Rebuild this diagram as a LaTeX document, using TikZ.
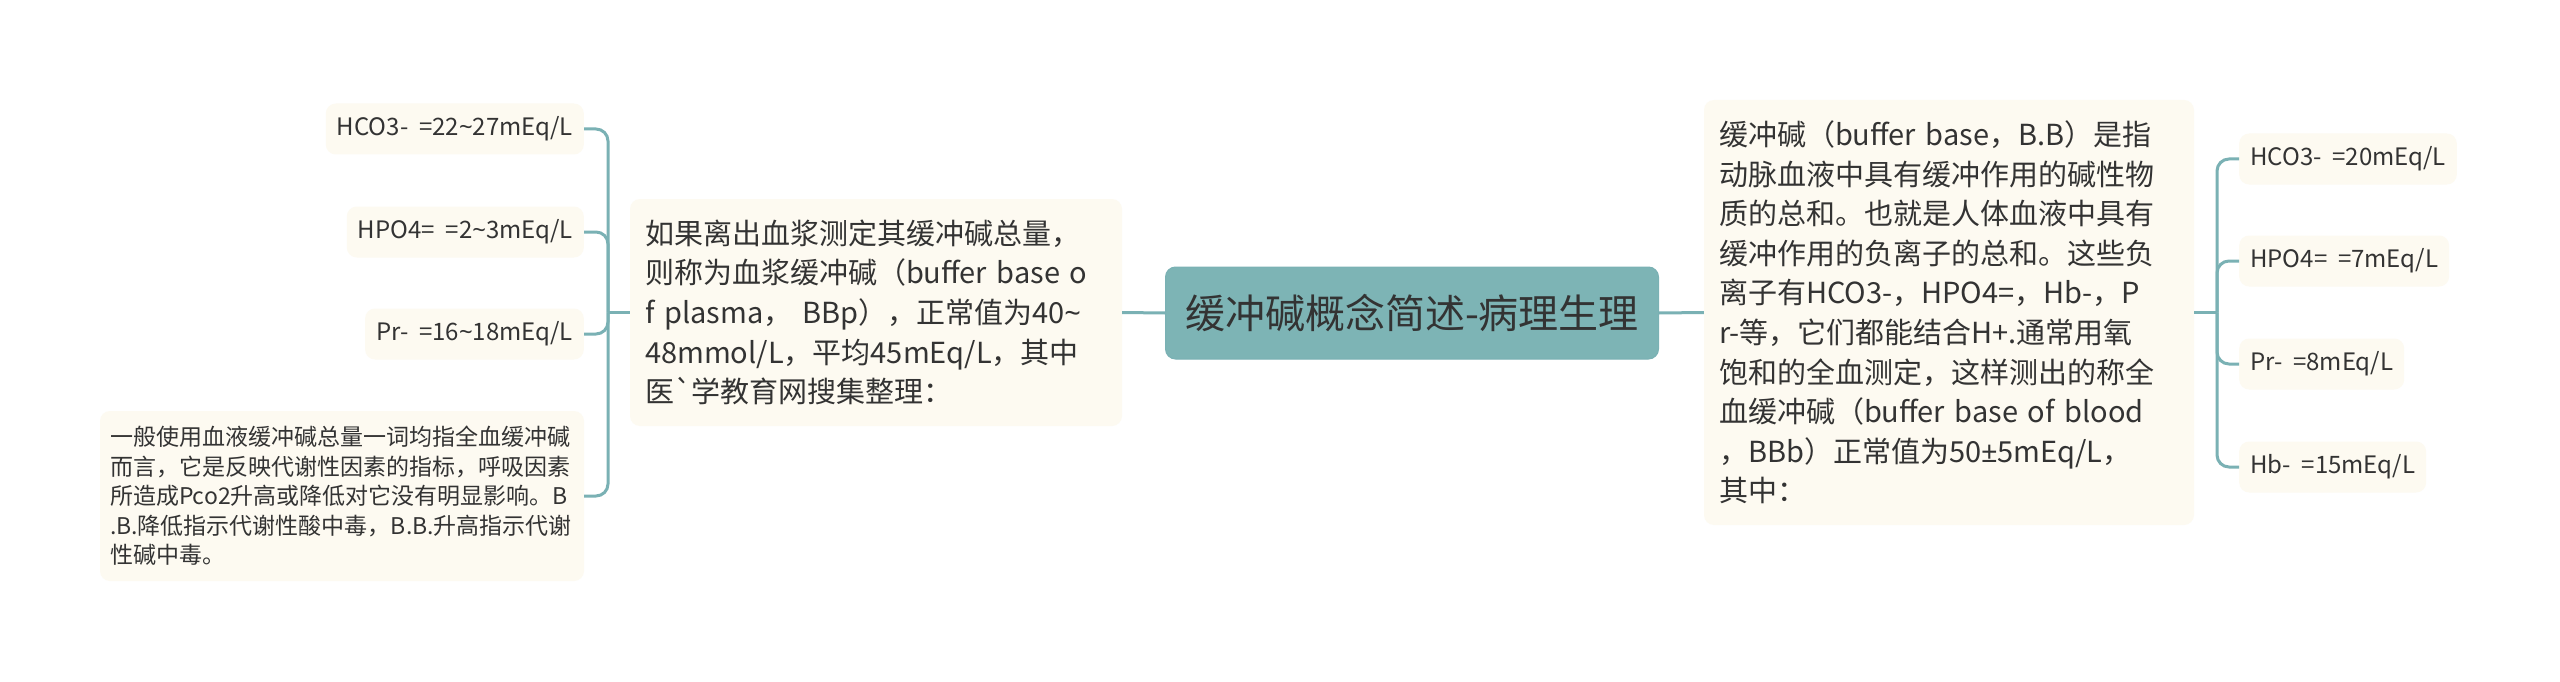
\documentclass[tikz,border=0pt]{standalone}
\usepackage{fontspec}
\setmainfont{Noto Sans CJK SC}
\newfontfamily\latinfont{Noto Sans}
\def\tld{{\latinfont\textasciitilde}}
\def\pmsign{{\latinfont ±}}
\definecolor{linkteal}{HTML}{7AB1B4}
\definecolor{rootteal}{HTML}{7DB4B5}
\definecolor{leafcream}{HTML}{FDFAF1}
\definecolor{inkgray}{HTML}{333333}
\tikzset{
  link/.style={draw=linkteal, line width=3pt},
  rootbox/.style={fill=rootteal, draw=linkteal, line width=1pt, rounded corners=10pt, text=inkgray,
    font=\fontsize{40}{48}\selectfont, minimum width=493pt, minimum height=92pt, inner sep=0pt},
  parabox/.style={fill=leafcream, rounded corners=10pt, text=inkgray, align=left,
    font=\fontsize{29}{39.6}\selectfont, inner xsep=15pt, inner ysep=0pt},
  notebox/.style={parabox, font=\fontsize{23}{29.5}\selectfont, inner xsep=10pt},
  leafbox/.style={fill=leafcream, rounded corners=10pt, text=inkgray,
    font=\fontsize{24}{28}\selectfont, inner xsep=11pt, inner ysep=0pt, minimum height=51pt}
}
\begin{document}
\begin{tikzpicture}[x=1pt, y=-1pt]
		%%%%% START %%%%%
		\fill[white] (0,0) rectangle (2560,682);
		\useasboundingbox (0,0) rectangle (2560,682);
		
		\node[rootbox] (root) at (1412,313) {缓冲碱概念简述-病理生理};
		
		\node[parabox, text width=462pt, minimum height=227pt] (plasma) at (876,312.5)
		  {如果离出血浆测定其缓冲碱总量，\\
		   则称为血浆缓冲碱（buffer base o\\
		   f plasma， BBp），正常值为40\tld\\
		   48mmol/L，平均45mEq/L，其中\\
		   医\textasciigrave 学教育网搜集整理：};
		
		\node[parabox, text width=460pt, minimum height=425pt] (blood) at (1949,312.5)
		  {缓冲碱（buffer base，B.B）是指\\
		   动脉血液中具有缓冲作用的碱性物\\
		   质的总和。也就是人体血液中具有\\
		   缓冲作用的负离子的总和。这些负\\
		   离子有HCO3-，HPO4=，Hb-，P\\
		   r-等，它们都能结合H+.通常用氧\\
		   饱和的全血测定，这样测出的称全\\
		   血缓冲碱（buffer base of blood\\
		   ，BBb）正常值为50\pmsign 5mEq/L，\\
		   其中：};
		
		% left leaves
		\node[leafbox, anchor=east] (lhco) at (584,129) {HCO3-\ \ =22\tld 27mEq/L};
		\node[leafbox, anchor=east] (lhpo) at (584,232) {HPO4=\ \ =2\tld 3mEq/L};
		\node[leafbox, anchor=east] (lpr) at (584,334) {Pr-\ \ =16\tld 18mEq/L};
		\node[notebox, text width=464pt, minimum height=170pt] (note) at (342,496)
		  {一般使用血液缓冲碱总量一词均指全血缓冲碱\\
		   而言，它是反映代谢性因素的指标，呼吸因素\\
		   所造成Pco2升高或降低对它没有明显影响。B\\
		   .B.降低指示代谢性酸中毒，B.B.升高指示代谢\\
		   性碱中毒。};
		
		% right leaves
		\node[leafbox, anchor=west] (rhco) at (2239,159) {HCO3-\ \ =20mEq/L};
		\node[leafbox, anchor=west] (rhpo) at (2239,261) {HPO4=\ \ =7mEq/L};
		\node[leafbox, anchor=west] (rpr) at (2239,364) {Pr-\ \ =8mEq/L};
		\node[leafbox, anchor=west] (rhb) at (2239,467) {Hb-\ \ =15mEq/L};
		
		% connectors
		\coordinate (ljoin) at (608,312.5);
		\coordinate (rjoin) at (2217,312.5);
		\draw[link] (root.west) -- (plasma.east);
		\draw[link] (root.east) -- (blood.west);
		\draw[link] (plasma.west) -- (ljoin);
		\draw[link] (blood.east) -- (rjoin);
		\foreach \leaf in {lhco,lhpo,lpr,note}
		  \draw[link, rounded corners=12pt] (ljoin) |- (\leaf.east);
		\foreach \leaf in {rhco,rhpo,rpr,rhb}
		  \draw[link, rounded corners=12pt] (rjoin) |- (\leaf.west);
		%%%%% END %%%%%
\end{tikzpicture}
\end{document}
